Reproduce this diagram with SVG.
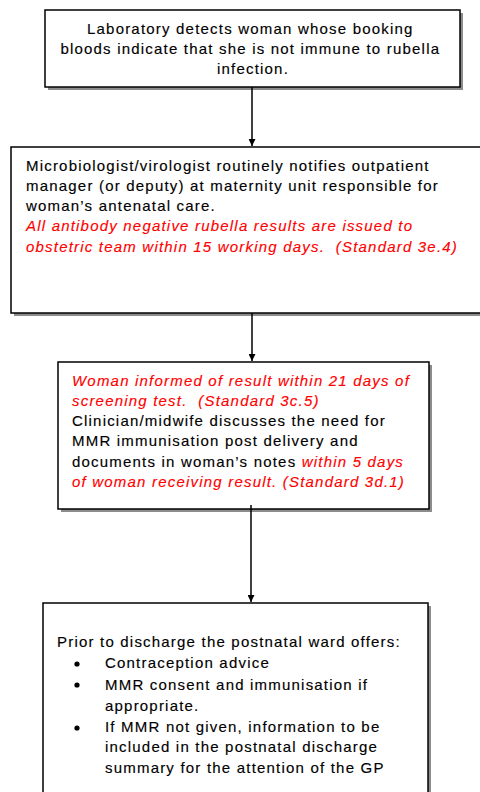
<svg xmlns="http://www.w3.org/2000/svg" width="480" height="792" viewBox="0 0 480 792">
  <style>
    .box { fill: #ffffff; stroke: #000000; stroke-width: 1.5; }
    .shadow { fill: #8c8c8c; }
    .t { font-family: "Liberation Sans", Arial, sans-serif; font-size: 15px; letter-spacing: 1.2px; fill: #000000; stroke: #000000; stroke-width: 0.15px; }
    .r { fill: #ff0000; stroke: #ff0000; font-style: italic; }
    .edge { stroke: #000000; stroke-width: 1.5; fill: none; }
  </style>
  <defs>
    <marker id="arrow" viewBox="0 0 10 10" refX="10" refY="5" markerWidth="7" markerHeight="7" markerUnits="userSpaceOnUse" orient="auto">
      <path d="M0,0 L10,5 L0,10 z" fill="#000000"/>
    </marker>
  </defs>
  <rect width="480" height="792" fill="#ffffff"/>

  <g id="n1">
    <rect class="shadow" x="48" y="13" width="415" height="77"/>
    <rect class="box" x="45" y="10" width="415" height="77"/>
    <text class="t" text-anchor="middle">
      <tspan x="253" y="34">Laboratory detects woman whose booking</tspan>
      <tspan x="253" y="54">bloods indicate that she is not immune to rubella</tspan>
      <tspan x="253" y="74">infection.</tspan>
    </text>
  </g>

  <g id="n2">
    <rect class="shadow" x="14" y="150" width="480" height="166"/>
    <rect class="box" x="11" y="147" width="480" height="166"/>
    <text class="t">
      <tspan x="26" y="171">Microbiologist/virologist routinely notifies outpatient</tspan>
      <tspan x="26" y="191">manager (or deputy) at maternity unit responsible for</tspan>
      <tspan x="26" y="211">woman’s antenatal care.</tspan>
      <tspan x="26" y="231" class="r">All antibody negative rubella results are issued to</tspan>
      <tspan x="26" y="252" class="r">obstetric team within 15 working days.&#160; (Standard 3e.4)</tspan>
    </text>
  </g>

  <g id="n3">
    <rect class="shadow" x="61" y="365" width="371" height="147"/>
    <rect class="box" x="58" y="362" width="371" height="147"/>
    <text class="t">
      <tspan x="72" y="386" class="r">Woman informed of result within 21 days of</tspan>
      <tspan x="72" y="406" class="r">screening test.&#160; (Standard 3c.5)</tspan>
      <tspan x="72" y="426">Clinician/midwife discusses the need for</tspan>
      <tspan x="72" y="446">MMR immunisation post delivery and</tspan>
      <tspan x="72" y="467">documents in woman’s notes <tspan class="r">within 5 days</tspan></tspan>
      <tspan x="72" y="487" class="r">of woman receiving result. (Standard 3d.1)</tspan>
    </text>
  </g>

  <g id="n4">
    <rect class="shadow" x="46" y="606" width="385" height="200"/>
    <rect class="box" x="43" y="603" width="385" height="200"/>
    <text class="t">
      <tspan x="57" y="647">Prior to discharge the postnatal ward offers:</tspan>
    </text>
    <g fill="#000000">
      <circle cx="77" cy="664" r="2.6"/>
      <circle cx="77" cy="685" r="2.6"/>
      <circle cx="77" cy="728" r="2.6"/>
    </g>
    <text class="t">
      <tspan x="105" y="668">Contraception advice</tspan>
      <tspan x="105" y="690">MMR consent and immunisation if</tspan>
      <tspan x="105" y="711">appropriate.</tspan>
      <tspan x="105" y="732">If MMR not given, information to be</tspan>
      <tspan x="105" y="752">included in the postnatal discharge</tspan>
      <tspan x="105" y="773">summary for the attention of the GP</tspan>
    </text>
  </g>

  <g id="edges">
    <line class="edge" x1="252" y1="87" x2="252" y2="146" marker-end="url(#arrow)"/>
    <line class="edge" x1="252" y1="313" x2="252" y2="361" marker-end="url(#arrow)"/>
    <line class="edge" x1="251" y1="505" x2="251" y2="602" marker-end="url(#arrow)"/>
  </g>
</svg>
